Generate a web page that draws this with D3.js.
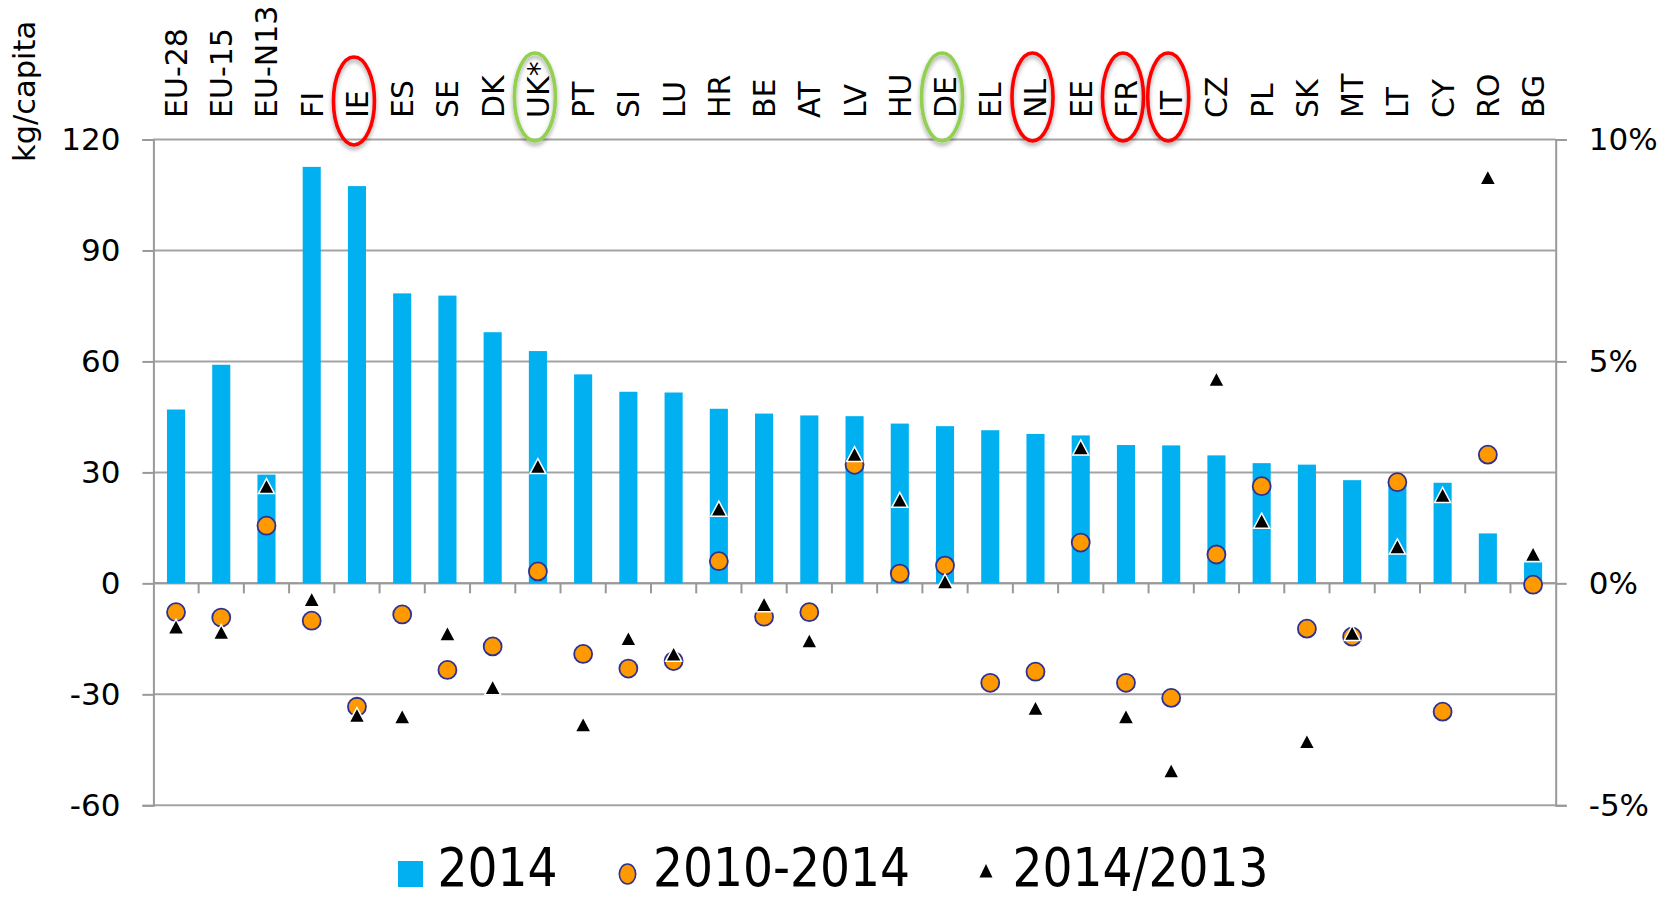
<!DOCTYPE html>
<html>
<head>
<meta charset="utf-8">
<script src="https://cdn.jsdelivr.net/npm/d3@7"></script>
<style>
  html, body { margin: 0; padding: 0; background: #fff; }
  svg { display: block; font-family: "DejaVu Sans", Verdana, sans-serif; }
</style>
</head>
<body>
<svg id="chart" width="1673" height="898"></svg>
<script>
// Country codes along the top
const categories = ["EU-28","EU-15","EU-N13","FI","IE","ES","SE","DK","UK*","PT","SI","LU","HR","BE","AT","LV","HU","DE","EL","NL","EE","FR","IT","CZ","PL","SK","MT","LT","CY","RO","BG"];

// 2014 amount, kg/capita (left axis)
const values2014 = [47.0,59.1,29.4,112.6,107.4,78.4,77.8,67.9,62.8,56.5,51.8,51.6,47.2,45.9,45.4,45.2,43.2,42.5,41.4,40.4,40.0,37.4,37.3,34.6,32.5,32.1,27.9,28.1,27.2,13.5,5.7];

// Average annual change 2010-2014, % (right axis)
const change2010to2014 = [-0.65,-0.77,1.30,-0.84,-2.78,-0.70,-1.95,-1.42,0.27,-1.59,-1.92,-1.75,0.50,-0.75,-0.65,2.67,0.22,0.40,-2.24,-1.99,0.92,-2.24,-2.58,0.65,2.19,-1.02,-1.20,2.28,-2.89,2.90,-0.03];

// Change 2014 over 2013, % (right axis); no value for EL
const change2014over2013 = [-0.98,-1.10,2.19,-0.36,-2.97,-3.00,-1.13,-2.34,2.64,-3.18,-1.24,-1.59,1.68,-0.47,-1.29,2.91,1.88,0.04,null,-2.81,3.06,-3.00,-4.22,4.60,1.41,-3.56,-1.12,0.83,1.99,9.15,0.66];

// Axis ticks
const leftTicks = [-60,-30,0,30,60,90,120];
const rightTicks = [-5,0,5,10];

// Circled country labels
const circledRed = ["IE","NL","FR","IT"];
const circledGreen = ["UK*","DE"];

// Legend entries
const legendLabels = ["2014","2010-2014","2014/2013"];

const svg = d3.select("#chart");

const plotLeft = 153.4, plotRight = 1555.7, plotTop = 139.5, plotBottom = 805.3;

const x = d3.scaleBand().domain(categories).range([plotLeft, plotRight]).paddingInner(0).paddingOuter(0);
const yL = d3.scaleLinear().domain([-60, 120]).range([plotBottom, plotTop]);
const yR = d3.scaleLinear().domain([-5, 10]).range([plotBottom, plotTop]);

const gridColor = "#a3a3a3";
const axisColor = "#999999";

// Horizontal gridlines
svg.append("g").selectAll("line").data(leftTicks).join("line")
  .attr("x1", plotLeft).attr("x2", plotRight)
  .attr("y1", d => yL(d)).attr("y2", d => yL(d))
  .attr("stroke", gridColor).attr("stroke-width", 2);

// Left axis
const gL = svg.append("g").attr("transform", `translate(${plotLeft},0)`)
  .call(d3.axisLeft(yL).tickValues(leftTicks).tickSize(11).tickPadding(22).tickFormat(d => String(d)));
gL.select(".domain").attr("stroke", axisColor).attr("stroke-width", 2);
gL.selectAll(".tick line").attr("stroke", axisColor).attr("stroke-width", 2);
gL.selectAll(".tick text").attr("font-size", 31).attr("fill", "#000")
  .attr("font-family", "DejaVu Sans, Verdana, sans-serif");

// Right axis
const gR = svg.append("g").attr("transform", `translate(${plotRight},0)`)
  .call(d3.axisRight(yR).tickValues(rightTicks).tickSize(11).tickPadding(22).tickFormat(d => d + "%"));
gR.select(".domain").attr("stroke", axisColor).attr("stroke-width", 2);
gR.selectAll(".tick line").attr("stroke", axisColor).attr("stroke-width", 2);
gR.selectAll(".tick text").attr("font-size", 31).attr("fill", "#000")
  .attr("font-family", "DejaVu Sans, Verdana, sans-serif");

// Category axis along zero with boundary ticks
const boundaries = categories.slice(1).map(c => x(c));
const gX = svg.append("g");
gX.append("line").attr("x1", plotLeft).attr("x2", plotRight)
  .attr("y1", yL(0)).attr("y2", yL(0))
  .attr("stroke", axisColor).attr("stroke-width", 2);
gX.selectAll("line.tk").data(boundaries).join("line").attr("class", "tk")
  .attr("x1", d => d).attr("x2", d => d)
  .attr("y1", yL(0)).attr("y2", yL(0) + 10)
  .attr("stroke", axisColor).attr("stroke-width", 2);

// Bars (2014)
const barW = x.bandwidth() * 0.4;
svg.append("g").selectAll("rect").data(categories).join("rect")
  .attr("x", (c) => x(c) + x.bandwidth() / 2 - barW / 2)
  .attr("width", barW)
  .attr("y", (c, i) => yL(values2014[i]))
  .attr("height", (c, i) => yL(0) - yL(values2014[i]))
  .attr("fill", "#00b0f0");

// Circles (2010-2014)
svg.append("g").selectAll("circle").data(categories).join("circle")
  .attr("cx", c => x(c) + x.bandwidth() / 2)
  .attr("cy", (c, i) => yR(change2010to2014[i]))
  .attr("r", 9)
  .attr("fill", "#ff9900")
  .attr("stroke", "#2e3192")
  .attr("stroke-width", 1.8);

// Triangles (2014/2013)
const tri = "M0,-7.6 L8,7.4 L-8,7.4 Z";
svg.append("g").selectAll("path").data(categories.filter((c, i) => change2014over2013[i] !== null)).join("path")
  .attr("d", tri)
  .attr("transform", c => {
    const i = categories.indexOf(c);
    return `translate(${x(c) + x.bandwidth() / 2},${yR(change2014over2013[i])})`;
  })
  .attr("fill", "#000")
  .attr("stroke", "#fff")
  .attr("stroke-width", 1.5)
  .attr("stroke-linejoin", "miter");

// Category labels along the top, rotated, ending just above the plot
const labelSize = 30;
svg.append("g").selectAll("text").data(categories).join("text")
  .attr("transform", c => `translate(${x(c) + x.bandwidth() / 2 + labelSize * 0.365},118) rotate(-90)`)
  .attr("text-anchor", "start")
  .attr("font-size", labelSize)
  .attr("fill", "#000")
  .text(c => c);

// Outline rings around selected country labels
const defs = svg.append("defs");
const f = defs.append("filter").attr("id", "ringShadow").attr("x", "-50%").attr("y", "-50%").attr("width", "200%").attr("height", "200%");
f.append("feDropShadow").attr("dx", 0).attr("dy", 3).attr("stdDeviation", 2)
  .attr("flood-color", "#000").attr("flood-opacity", 0.35);

const rings = circledRed.map(c => ({ c, color: "#ff0000" }))
  .concat(circledGreen.map(c => ({ c, color: "#92d050" })));
svg.append("g").selectAll("ellipse").data(rings).join("ellipse")
  .attr("cx", d => x(d.c) + x.bandwidth() / 2 - 3)
  .attr("cy", d => d.c === "IE" ? 101 : 97)
  .attr("rx", 20.5)
  .attr("ry", 44)
  .attr("fill", "none")
  .attr("stroke", d => d.color)
  .attr("stroke-width", 3.6)
  .attr("filter", "url(#ringShadow)");

// Left axis title
svg.append("text")
  .attr("transform", "translate(35,162) rotate(-90)")
  .attr("text-anchor", "start")
  .attr("font-size", 30.5)
  .attr("fill", "#000")
  .text("kg/capita");

// Legend
const lg = svg.append("g");
lg.append("rect").attr("x", 398).attr("y", 861).attr("width", 25).attr("height", 26).attr("fill", "#00b0f0");
lg.append("ellipse").attr("cx", 627.5).attr("cy", 874).attr("rx", 8.2).attr("ry", 10)
  .attr("fill", "#ff9900").attr("stroke", "#2e3192").attr("stroke-width", 1.6);
lg.append("path").attr("d", "M0,-7 L6.5,6.5 L-6.5,6.5 Z").attr("transform", "translate(986,871)").attr("fill", "#000");
const legendX = [437.5, 653, 1012.6];
lg.selectAll("text").data(legendLabels).join("text")
  .attr("transform", (d, i) => `translate(${legendX[i]},886) scale(0.89,1)`)
  .attr("font-size", 53)
  .attr("fill", "#000")
  .text(d => d);
</script>
</body>
</html>
